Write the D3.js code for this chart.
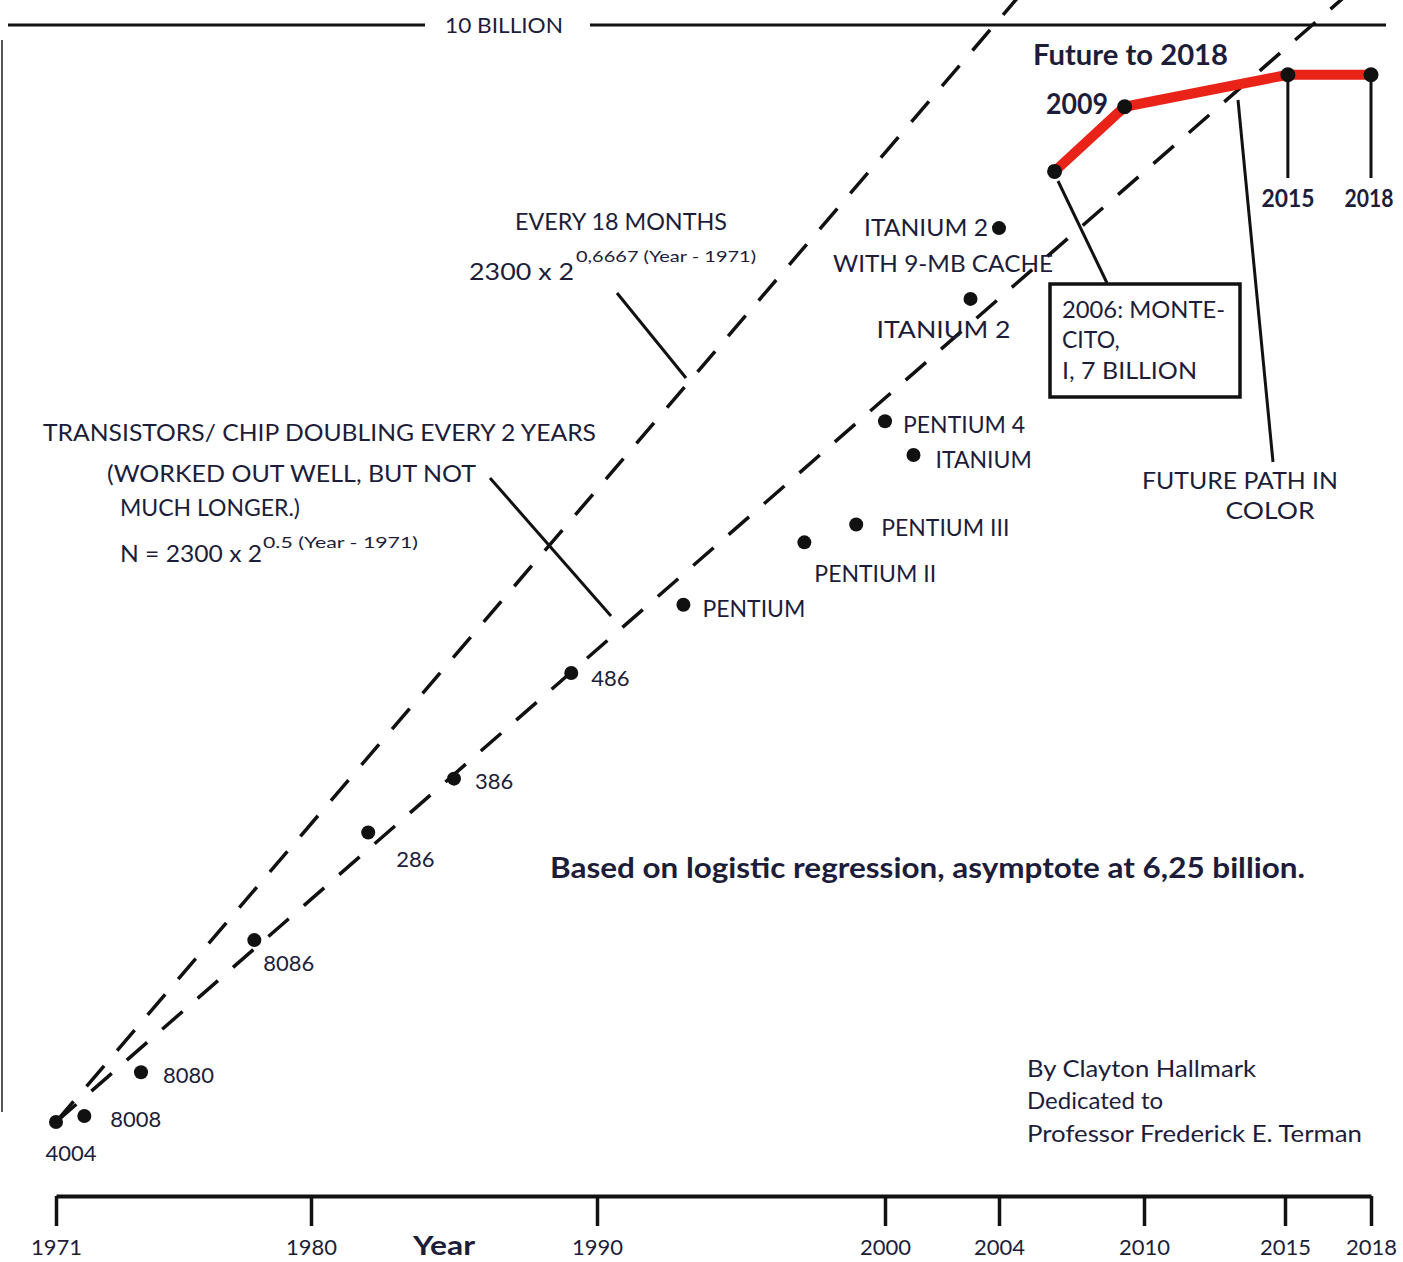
<!DOCTYPE html>
<html>
<head>
<meta charset="utf-8">
<script src="https://cdn.jsdelivr.net/npm/d3@7"></script>
<style>
  html, body { margin: 0; padding: 0; background: #fff; }
  svg { display: block; }
  text { font-family: Lato, "Open Sans", sans-serif; fill: #1d1d3a; }
</style>
</head>
<body>
<svg id="chart" width="1403" height="1262"></svg>
<script>
// ---------------- DATA ----------------
const axisYears = [1971, 1980, 1990, 2000, 2004, 2010, 2015, 2018];
const axisTickLabels = ["1971", "1980", "1990", "2000", "2004", "2010", "2015", "2018"];

const chipNames  = ["4004", "8008", "8080", "8086", "286", "386", "486", "PENTIUM", "PENTIUM II", "PENTIUM III", "PENTIUM 4", "ITANIUM", "ITANIUM 2", "ITANIUM 2 9MB"];
const chipYears  = [1971, 1972, 1974, 1978, 1982, 1985, 1989.1, 1993, 1997.2, 1999, 2000, 2001, 2003, 2004];
const chipCounts = [2300, 2500, 4600, 29000, 130000, 275000, 1.2e6, 3.1e6, 7.4e6, 9.5e6, 4.0e7, 2.5e7, 2.2e8, 5.9e8];

const futureYears  = [2006.3, 2009.2, 2015.1, 2018];
const futureCounts = [1.3e9, 3.2e9, 5.0e9, 5.0e9];

// trend lines: [year, transistors] start and end points
const twoYearLine       = [[1971, 2300], [2017.3, 1.6e10]];
const eighteenMonthLine = [[1971, 2300], [2005.0, 1.6e10]];
const tenBillion = 1e10;

// ---------------- SCALES ----------------
const svg = d3.select("#chart");
const x = d3.scaleLinear()
  .domain(axisYears)
  .range([56, 311, 597, 885, 999, 1144, 1285, 1371]);
const y = d3.scaleLog()
  .domain([2300, 1e10])
  .range([1122, 25]);

const ink = "#111";
const txt = "#1d1d3a";

function label(px, py, str, o = {}) {
  const t = svg.append("text")
    .attr("x", px).attr("y", py)
    .attr("font-size", o.size || 23)
    .attr("font-weight", o.weight || 400)
    .attr("text-anchor", o.anchor || "start")
    .style("fill", o.fill || txt)
    .text(str);
  if (o.len) t.attr("textLength", o.len).attr("lengthAdjust", "spacingAndGlyphs");
  return t;
}

// left border line
svg.append("line").attr("x1", 2).attr("x2", 2).attr("y1", 40).attr("y2", 1112)
  .attr("stroke", "#555").attr("stroke-width", 2);

// ---------------- 10 BILLION LINE ----------------
svg.append("line").attr("x1", 8).attr("x2", 425).attr("y1", y(tenBillion)).attr("y2", y(tenBillion))
  .attr("stroke", ink).attr("stroke-width", 3);
svg.append("line").attr("x1", 590).attr("x2", 1386).attr("y1", y(tenBillion)).attr("y2", y(tenBillion))
  .attr("stroke", ink).attr("stroke-width", 3);
label(445, y(tenBillion) + 8, "10 BILLION", { size: 22, len: 118 });

// ---------------- TREND LINES ----------------
const lineGen = d3.line().x(d => x(d[0])).y(d => y(d[1]));
[twoYearLine, eighteenMonthLine].forEach(seg => {
  svg.append("path").attr("d", lineGen(seg))
    .attr("fill", "none").attr("stroke", ink).attr("stroke-width", 3.5)
    .attr("stroke-dasharray", "27,20");
});

// ---------------- LEADER LINES ----------------
const leaders = [
  [617, 293, 686, 378],
  [490, 478, 611, 616],
  [1058, 181, 1107, 283],
  [1238, 100, 1273, 462]
];
leaders.forEach(l => svg.append("line")
  .attr("x1", l[0]).attr("y1", l[1]).attr("x2", l[2]).attr("y2", l[3])
  .attr("stroke", ink).attr("stroke-width", 3));

// vertical drops from 2015 / 2018
[2, 3].forEach(i => svg.append("line")
  .attr("x1", x(futureYears[i])).attr("x2", x(futureYears[i]))
  .attr("y1", y(futureCounts[i])).attr("y2", 178)
  .attr("stroke", ink).attr("stroke-width", 3));

// ---------------- FUTURE PATH ----------------
const fut = futureYears.map((yr, i) => [yr, futureCounts[i]]);
svg.append("path").attr("d", lineGen(fut))
  .attr("fill", "none").attr("stroke", "#ea2318").attr("stroke-width", 10)
  .attr("stroke-linejoin", "round").attr("stroke-linecap", "round");
svg.selectAll("circle.fut").data(fut).enter().append("circle")
  .attr("class", "fut")
  .attr("cx", d => x(d[0])).attr("cy", d => y(d[1])).attr("r", 7.5).attr("fill", ink);

// ---------------- CHIP POINTS ----------------
const chips = chipNames.map((n, i) => ({ name: n, year: chipYears[i], count: chipCounts[i] }));
svg.selectAll("circle.chip").data(chips).enter().append("circle")
  .attr("class", "chip")
  .attr("cx", d => x(d.year)).attr("cy", d => y(d.count)).attr("r", 7).attr("fill", ink);

// label offsets relative to points
const labelOffsets = {
  "4004": [15, 39, "middle"],
  "8008": [26, 11, "start"],
  "8080": [22, 11, "start"],
  "8086": [9, 31, "start"],
  "286": [28, 35, "start"],
  "386": [21, 10, "start"],
  "486": [20, 13, "start"],
  "PENTIUM": [19, 12, "start"],
  "PENTIUM II": [10, 40, "start"],
  "PENTIUM III": [25, 12, "start"],
  "PENTIUM 4": [18, 12, "start"],
  "ITANIUM": [22, 13, "start"]
};
chips.forEach(d => {
  const o = labelOffsets[d.name];
  if (!o) return;
  const isNum = /^\d/.test(d.name);
  label(x(d.year) + o[0], y(d.count) + o[1], d.name, { size: isNum ? 22 : 23, anchor: o[2] });
});
// Itanium 2 labels
const it2 = chips[12], it9 = chips[13];
label(x(it2.year) - 94, y(it2.count) + 39, "ITANIUM  2", { size: 23, len: 134 });
label(x(it9.year) - 11, y(it9.count) + 8, "ITANIUM 2", { size: 23, anchor: "end", len: 124 });
label(x(it9.year) - 166, y(it9.count) + 44, "WITH 9-MB CACHE", { size: 23, len: 220 });

// ---------------- MONTECITO BOX ----------------
svg.append("rect").attr("x", 1050).attr("y", 284).attr("width", 190).attr("height", 113)
  .attr("fill", "#fff").attr("stroke", ink).attr("stroke-width", 3.5);
label(1062, 318, "2006: MONTE-", { size: 23, len: 163 });
label(1062, 348, "CITO,", { size: 23 });
label(1062, 379, "I, 7 BILLION", { size: 23, len: 135 });

// ---------------- FUTURE LABELS ----------------
label(1033, 65, "Future to 2018", { size: 28, weight: 700, len: 195 });
label(1046, 114, "2009", { size: 28, weight: 700, len: 62 });
label(1288, 207, "2015", { size: 24, weight: 700, anchor: "middle", len: 53 });
label(1369, 207, "2018", { size: 24, weight: 700, anchor: "middle", len: 49 });

label(1240, 489, "FUTURE PATH IN", { size: 23, anchor: "middle", len: 196 });
label(1270, 519, "COLOR", { size: 23, anchor: "middle", len: 89 });

// ---------------- FORMULA ANNOTATIONS ----------------
label(515, 230, "EVERY 18 MONTHS", { size: 23, len: 212 });
label(469, 280, "2300 x 2", { size: 23, len: 105 });
label(576, 262, "0,6667 (Year - 1971)", { size: 15, len: 180 });

label(43, 441, "TRANSISTORS/ CHIP DOUBLING EVERY 2 YEARS", { size: 23, len: 553 });
label(107, 482, "(WORKED OUT WELL, BUT NOT", { size: 23, len: 369 });
label(120, 516, "MUCH LONGER.)", { size: 23, len: 180 });
label(120, 562, "N = 2300 x 2", { size: 23, len: 142 });
label(263, 548, "0.5 (Year - 1971)", { size: 15, len: 155 });

// ---------------- NOTES ----------------
label(550, 878, "Based on logistic regression, asymptote at 6,25 billion.", { size: 28, weight: 700, len: 755 });
label(1027, 1077, "By Clayton Hallmark", { size: 24, len: 229 });
label(1027, 1109, "Dedicated to", { size: 24 });
label(1027, 1142, "Professor Frederick E. Terman", { size: 24, len: 335 });

// ---------------- X AXIS ----------------
const axis = d3.axisBottom(x)
  .tickValues(axisYears)
  .tickFormat((d, i) => axisTickLabels[i])
  .tickSizeInner(30).tickSizeOuter(0).tickPadding(13);
const gx = svg.append("g").attr("transform", "translate(0,1196)").call(axis);
gx.select(".domain").attr("stroke", ink).attr("stroke-width", 4);
gx.selectAll(".tick line").attr("stroke", ink).attr("stroke-width", 3.5);
gx.selectAll(".tick text").attr("font-size", 22).attr("font-family", "Lato, sans-serif").style("fill", txt);
label(444, 1255, "Year", { size: 27, weight: 700, anchor: "middle", len: 62 });
</script>
</body>
</html>
